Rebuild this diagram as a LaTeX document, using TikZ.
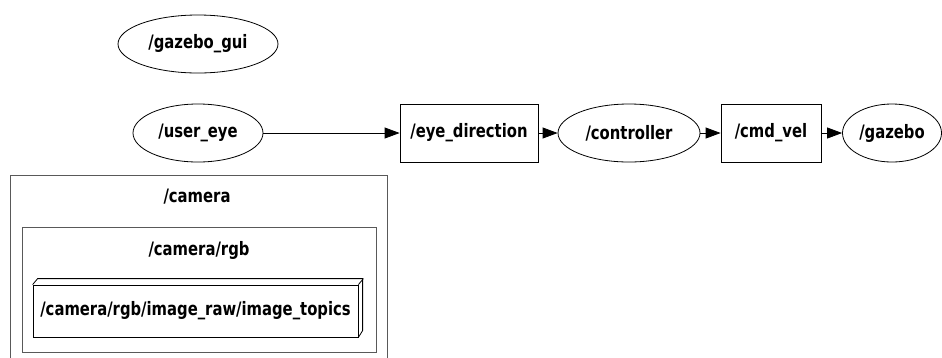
\documentclass[tikz,border=0pt]{standalone}
\usepackage{fontspec}
\usepackage{graphicx}
\setmainfont{DejaVu Sans Condensed}
\usetikzlibrary{shapes.geometric,arrows.meta}

% labels are set in bold condensed type, narrowed a little more
\newcommand{\lbl}[1]{\scalebox{0.89}[1]{#1}}

\tikzset{
  every node/.style={font=\fontsize{18.5}{22}\selectfont\bfseries, inner sep=0pt},
  topicnode/.style={draw, line width=0.8pt, rectangle},
  rosnode/.style={draw, line width=0.8pt, ellipse},
  link/.style={draw, line width=0.8pt, -{Triangle[length=15pt,width=11pt]}},
  group/.style={draw, line width=0.8pt, gray!70!black},
}

\begin{document}
\begin{tikzpicture}[x=1pt, y=-1pt]
  \useasboundingbox (0,0) rectangle (942,357);

  % ROS nodes (ellipses) and topics (boxes)
  \node[rosnode, minimum width=160pt, minimum height=58pt] (gui) at (198,44) {\lbl{/gazebo\_gui}};
  \node[rosnode, minimum width=130pt, minimum height=58pt] (ue) at (198,133) {\lbl{/user\_eye}};
  \node[topicnode, minimum width=138pt, minimum height=58pt] (ed) at (469,133) {\lbl{/eye\_direction}};
  \node[rosnode, minimum width=142pt, minimum height=58pt] (ctl) at (629,133) {\lbl{/controller}};
  \node[topicnode, minimum width=100pt, minimum height=58pt] (cv) at (771,133) {\lbl{/cmd\_vel}};
  \node[rosnode, minimum width=99pt, minimum height=58pt] (gz) at (892,133) {\lbl{/gazebo}};

  % message flow
  \draw[link] (ue) -- (ed);
  \draw[link] (ed) -- (ctl);
  \draw[link] (ctl) -- (cv);
  \draw[link] (cv) -- (gz);

  % namespace clusters
  \draw[group] (10,360) -- (10,175) -- (387,175) -- (387,360);
  \node (camlbl) at (197,197) {\lbl{/camera}};
  \draw[group] (22,227) rectangle (376,352);
  \node (rgblbl) at (199,250) {\lbl{/camera/rgb}};

  % 3-D box for the image topics
  \node[draw, line width=0.8pt, minimum width=325pt, minimum height=52pt] (img) at (195.5,311) {\lbl{/camera/rgb/image\_raw/image\_topics}};
  \draw[line width=0.8pt] (img.north west) -- ++(5,-6) -- ++(325,0) -- ++(0,52) -- (img.south east);
  \draw[line width=0.8pt] (img.north east) -- ++(5,-6);
\end{tikzpicture}
\end{document}
